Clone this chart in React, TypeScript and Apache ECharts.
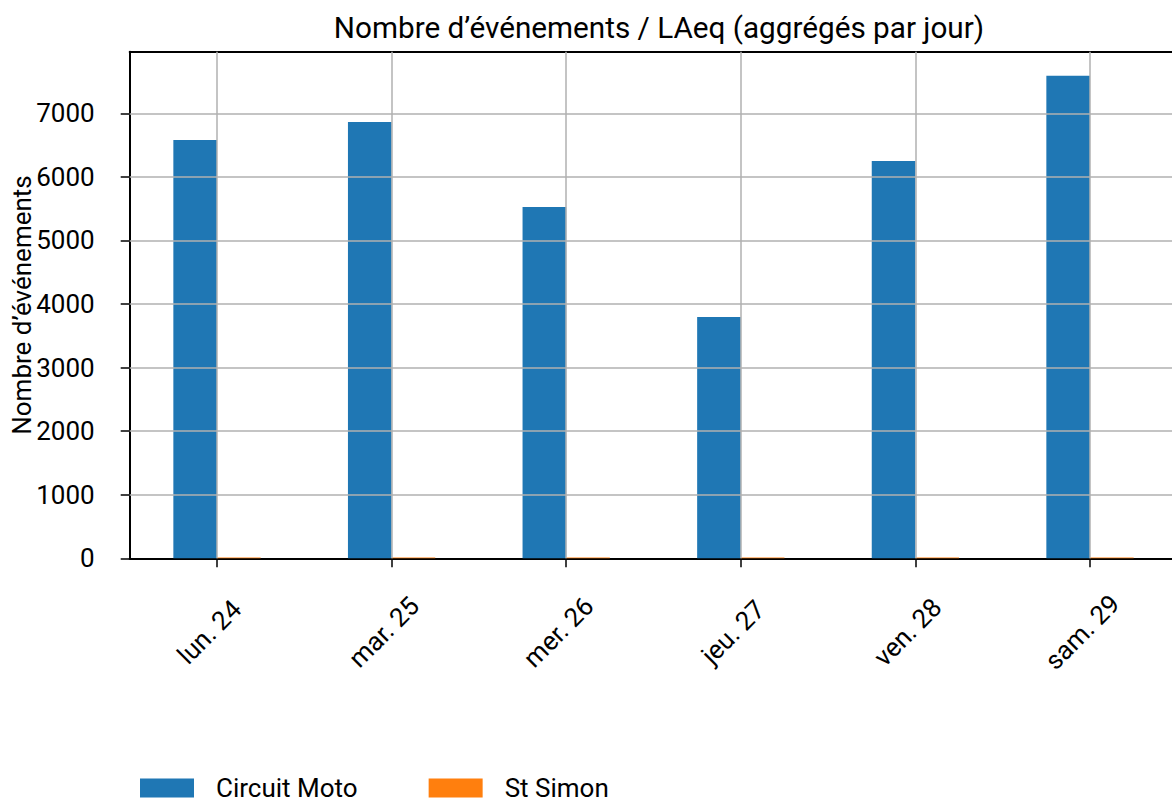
import React, { useEffect, useRef } from "react";
import * as echarts from "echarts";

const categories = ["lun. 24", "mar. 25", "mer. 26", "jeu. 27", "ven. 28", "sam. 29"];
const circuitMoto = [6580, 6865, 5525, 3795, 6250, 7590];
const stSimon = [14, 13, 12, 12, 13, 14];
const yTicks = [0, 1000, 2000, 3000, 4000, 5000, 6000, 7000];
const yGrid = [1000, 2000, 3000, 4000, 5000, 6000, 7000];
const yMax = 7970;

const FONT = "Roboto";
const FS = 26;
const TITLE_FS = 29.7;

export default function App() {
  const ref = useRef<HTMLDivElement>(null);
  useEffect(() => {
    if (!ref.current) return;
    const chart = echarts.init(ref.current, null, { renderer: "svg" });
    const gridColor = "#b0b0b0";
    chart.setOption({
      animation: false,
      backgroundColor: "#ffffff",
      textStyle: { fontFamily: FONT, color: "#000" },
      title: {
        text: "Nombre d’événements / LAeq (aggrégés par jour)",
        left: 654,
        textAlign: "center",
        top: 7,
        textStyle: { fontFamily: FONT, fontSize: TITLE_FS, fontWeight: "normal", color: "#000" },
      },
      legend: {
        left: 140,
        top: 775,
        padding: 0,
        itemWidth: 54,
        itemHeight: 19,
        itemGap: 71,
        icon: "rect",
        textStyle: { fontFamily: FONT, fontSize: FS, color: "#000", lineHeight: 19, padding: [0, 0, 0, 17] },
        data: ["Circuit Moto", "St Simon"],
      },
      grid: {
        left: 129.7,
        right: -5.3,
        top: 51.7,
        bottom: 241.7,
        containLabel: false,
        outerBoundsMode: "none",
      },
      xAxis: [
        {
          type: "category",
          data: categories,
          position: "bottom",
          axisLine: { show: true, lineStyle: { color: "#000", width: 2 } },
          axisTick: { show: true, alignWithLabel: true, length: 9, lineStyle: { color: "#000", width: 1.5 } },
          axisLabel: {
            rotate: 45,
            align: "center",
            verticalAlign: "middle",
            margin: 66,
            padding: [0, 22, 0, 0],
            fontFamily: FONT,
            fontSize: FS,
            color: "#000",
          },
          splitLine: { show: false },
        },
        {
          type: "category",
          data: categories,
          position: "top",
          axisLine: { show: true, lineStyle: { color: "#000", width: 2 } },
          axisTick: { show: false },
          axisLabel: { show: false },
          splitLine: { show: false },
        },
      ],
      yAxis: {
        type: "value",
        min: 0,
        max: yMax,
        name: "Nombre d’événements",
        nameLocation: "middle",
        nameRotate: 90,
        nameGap: 95,
        nameMoveOverlap: false,
        nameTextStyle: { fontFamily: FONT, fontSize: FS, color: "#000" },
        axisLine: { show: true, lineStyle: { color: "#000", width: 2 } },
        axisTick: { show: true, length: 9, customValues: yTicks, lineStyle: { color: "#000", width: 1.5 } },
        axisLabel: {
          customValues: yTicks,
          margin: 35,
          fontFamily: FONT,
          fontSize: FS,
          color: "#000",
          formatter: (v: number) => String(v),
        },
        splitLine: { show: false },
      },
      series: [
        {
          name: "Circuit Moto",
          type: "bar",
          data: circuitMoto,
          barWidth: "25%",
          barGap: "0%",
          itemStyle: { color: "#1f77b4" },
        },
        {
          name: "St Simon",
          type: "bar",
          data: stSimon,
          barWidth: "25%",
          barGap: "0%",
          itemStyle: { color: "#ff7f0e" },
        },
        {
          name: "grid",
          type: "line",
          data: [],
          silent: true,
          markLine: {
            silent: true,
            symbol: ["none", "none"],
            label: { show: false },
            lineStyle: { color: gridColor, width: 1.5, type: "solid" },
            emphasis: { disabled: true },
            data: [
              ...categories.map((c) => ({ xAxis: c })),
              ...yGrid.map((v) => ({ yAxis: v })),
            ],
          },
        },
      ],
    });
    return () => chart.dispose();
  }, []);
  return (
    <div
      ref={ref}
      style={{ position: "fixed", left: 0, top: 0, width: 1172, height: 800, background: "#fff" }}
    />
  );
}
